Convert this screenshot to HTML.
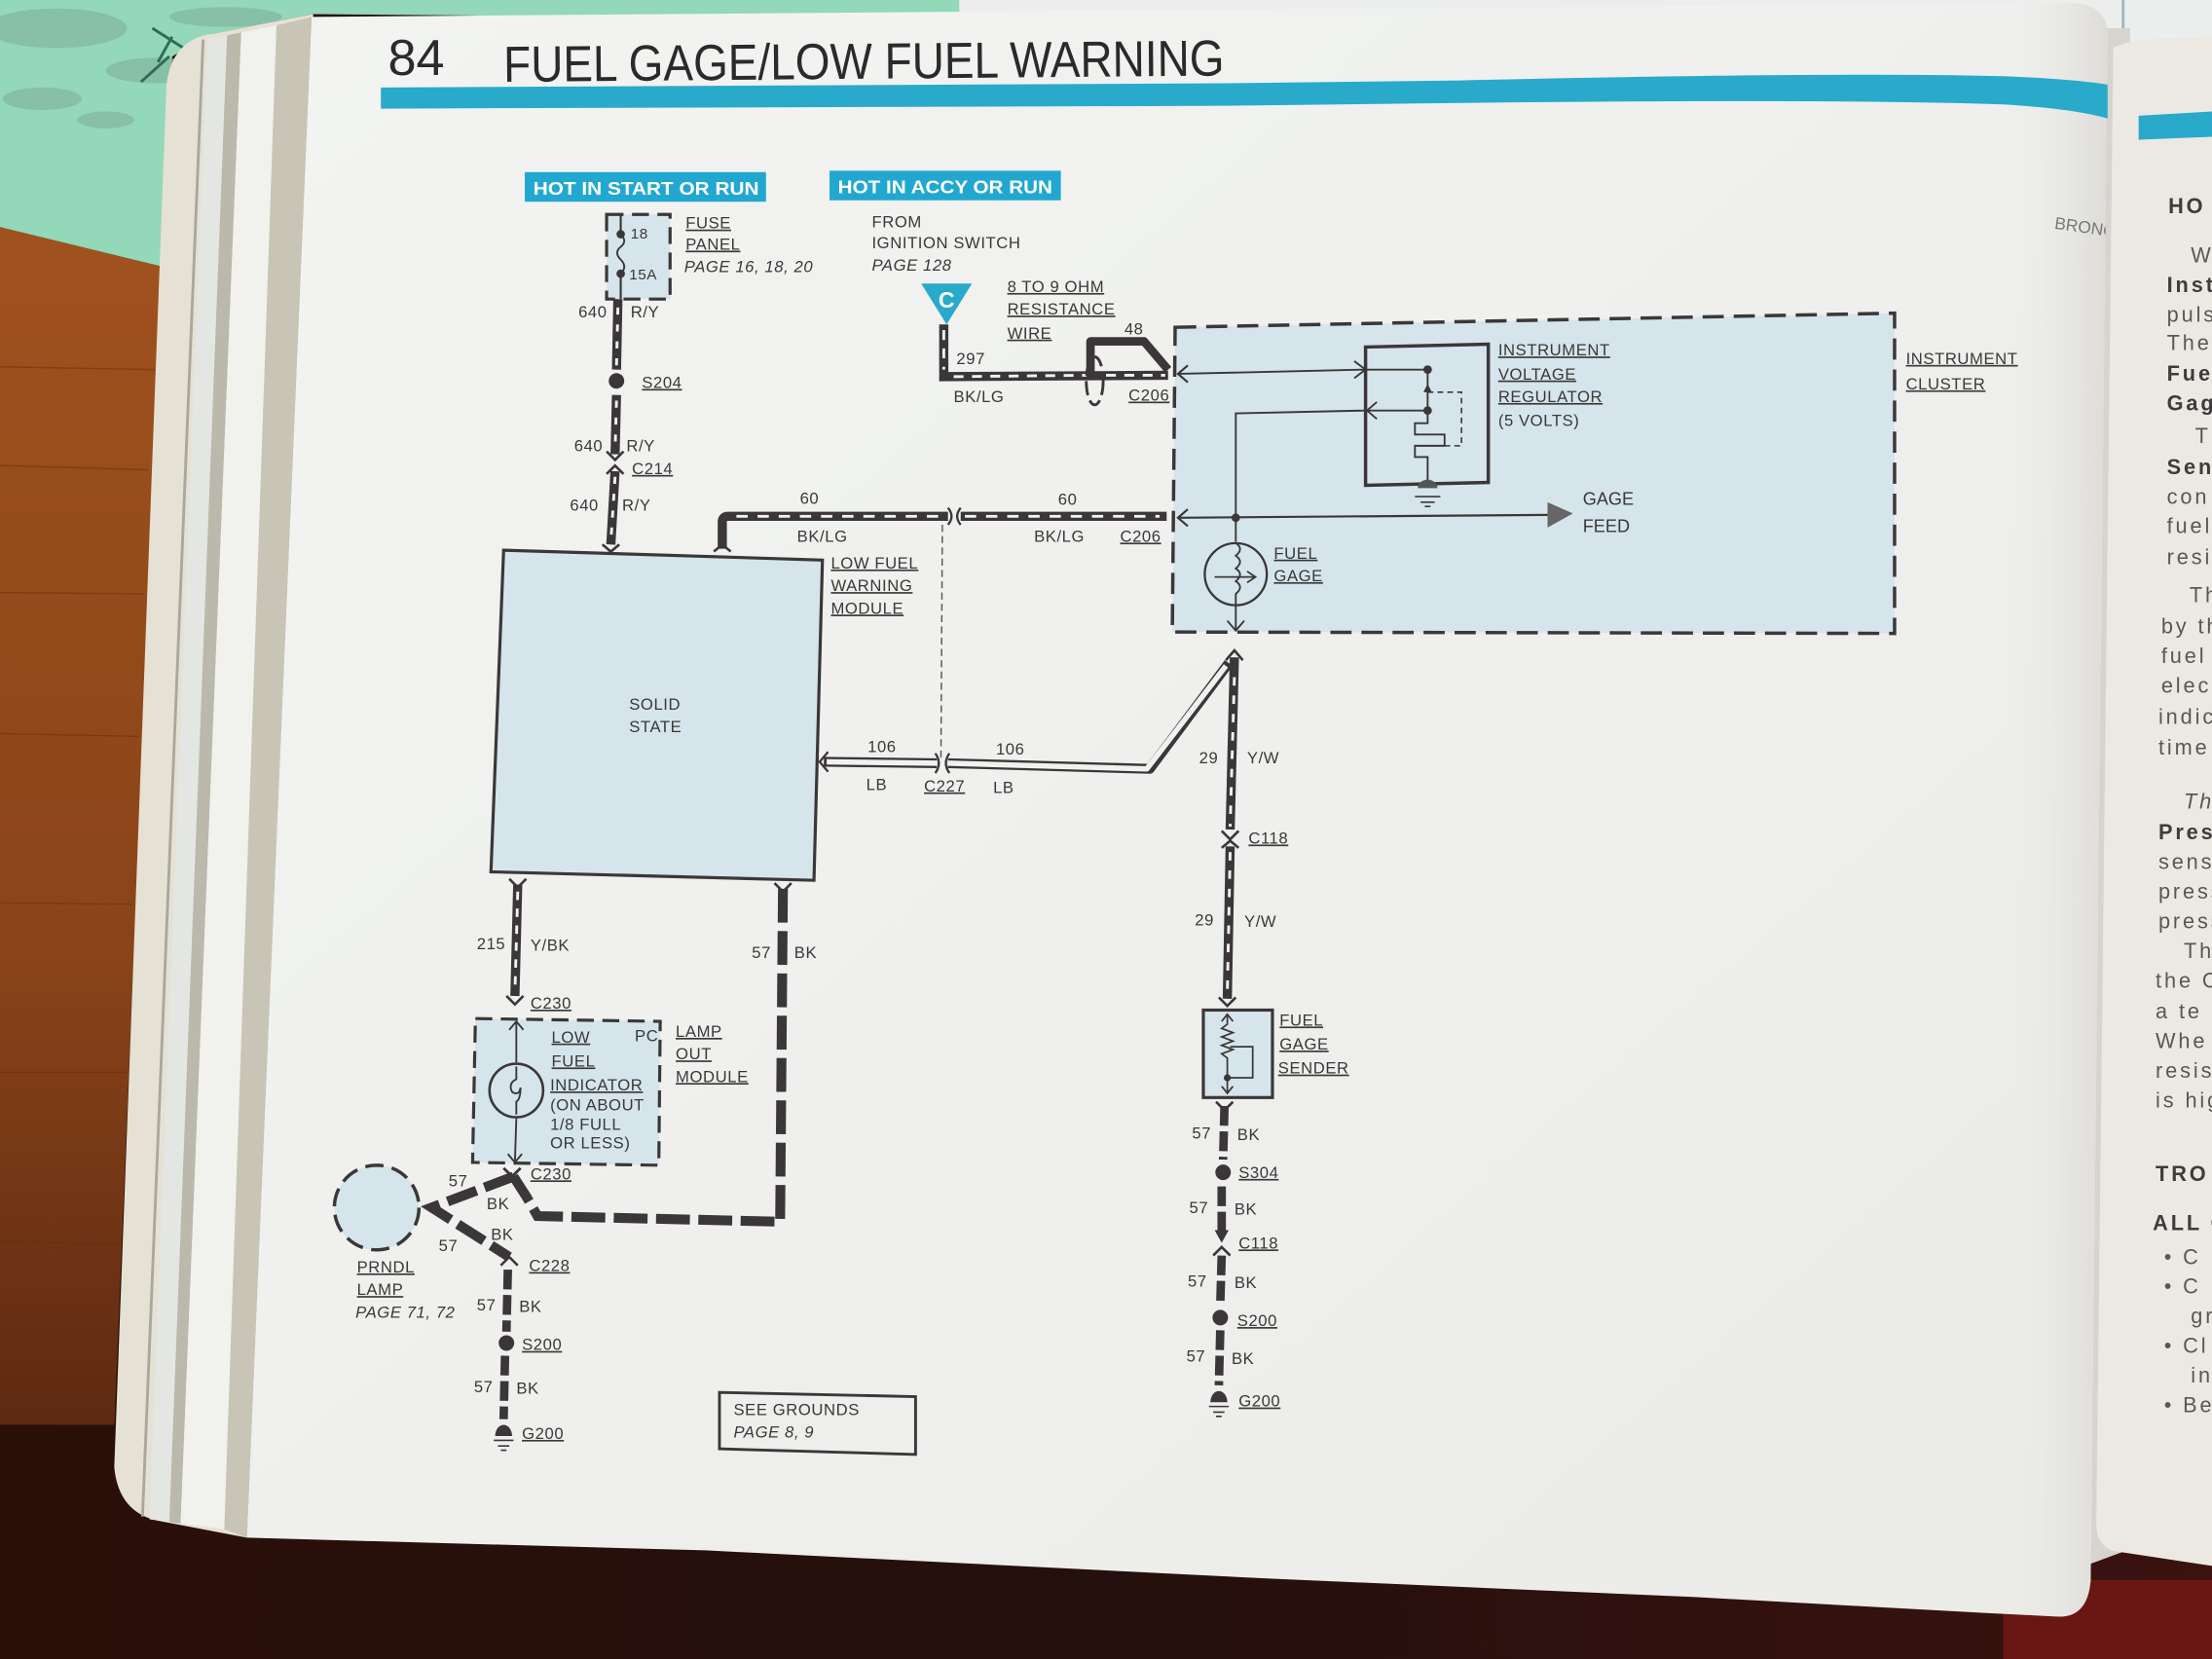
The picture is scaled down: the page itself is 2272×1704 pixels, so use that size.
<!DOCTYPE html>
<html>
<head>
<meta charset="utf-8">
<style>
  html,body{margin:0;padding:0;background:#2a100a;}
  svg{display:block;}
  .t{font-family:"Liberation Sans",sans-serif;font-size:11.5px;fill:#3a3838;letter-spacing:0.4px;}
  .s{font-size:10.5px;}
  .i{font-style:italic;}
  .u{text-decoration:underline;}
  .rp{font-family:"Liberation Sans",sans-serif;font-size:15px;fill:#5a5756;letter-spacing:2px;}
  .rb{font-weight:bold;fill:#3e3c3c;}
</style>
</head>
<body>
<svg width="2272" height="1704" viewBox="0 0 1568 1176" xmlns="http://www.w3.org/2000/svg">
  <defs>
    <linearGradient id="wood" x1="0" y1="0" x2="0" y2="1">
      <stop offset="0" stop-color="#a0521e"/>
      <stop offset="0.6" stop-color="#8a4419"/>
      <stop offset="1" stop-color="#5e2a12"/>
    </linearGradient>
    <linearGradient id="pg" x1="0" y1="0" x2="1" y2="1">
      <stop offset="0" stop-color="#f3f4f2"/>
      <stop offset="0.5" stop-color="#eff0ee"/>
      <stop offset="1" stop-color="#ebebe8"/>
    </linearGradient>
    <linearGradient id="gut" x1="0" y1="0" x2="1" y2="0">
      <stop offset="0" stop-color="#ebebe8" stop-opacity="0"/>
      <stop offset="1" stop-color="#dddbd6" stop-opacity="1"/>
    </linearGradient>
    <linearGradient id="dark" x1="0" y1="0" x2="1" y2="0">
      <stop offset="0" stop-color="#2b0f09"/>
      <stop offset="0.5" stop-color="#24100c"/>
      <stop offset="1" stop-color="#3a1210"/>
    </linearGradient>
    <clipPath id="pageclip">
      <path d="M221,12 L1470,2 Q1494,4 1494,25 L1482,1120 Q1480,1146 1460,1146 L175,1090 Z"/>
    </clipPath>
  </defs>

  <!-- backgrounds -->
  <rect x="0" y="0" width="1568" height="1176" fill="url(#dark)"/>
  <rect x="1420" y="1120" width="148" height="56" fill="#6a1612"/>
  <rect x="560" y="0" width="1008" height="60" fill="#eceeee"/>
  <line x1="1505" y1="0" x2="1505" y2="30" stroke="#9fb4c4" stroke-width="2"/>
  <!-- gutter between pages -->
  <polygon points="1480,20 1510,20 1505,1100 1478,1110" fill="#d6d4ce"/>
  <!-- green paper -->
  <polygon points="0,0 680,0 680,14 222,10 150,24 122,40 115,189 0,161" fill="#93d8b8"/>
  <g fill="#86b9a3" opacity="0.8">
    <ellipse cx="40" cy="20" rx="50" ry="14"/>
    <ellipse cx="110" cy="50" rx="35" ry="9"/>
    <ellipse cx="30" cy="70" rx="28" ry="8"/>
    <ellipse cx="75" cy="85" rx="20" ry="6"/>
    <ellipse cx="160" cy="12" rx="40" ry="7"/>
  </g>
  <path d="M112,44 L122,26 M108,20 L130,34 M100,58 L120,40" stroke="#2f6b55" stroke-width="2" fill="none"/>
  <!-- wood -->
  <polygon points="0,161 115,189 81,1010 0,1010" fill="url(#wood)"/>
  <g stroke="#6a2e10" stroke-width="1" opacity="0.5">
    <line x1="0" y1="260" x2="110" y2="262"/>
    <line x1="0" y1="330" x2="105" y2="333"/>
    <line x1="0" y1="420" x2="102" y2="421"/>
    <line x1="0" y1="520" x2="98" y2="522"/>
    <line x1="0" y1="640" x2="94" y2="641"/>
    <line x1="0" y1="760" x2="90" y2="760"/>
    <line x1="0" y1="880" x2="86" y2="882"/>
  </g>

  <!-- page stack -->
  <path d="M118,60 Q122,28 150,24 L222,10 L175,1090 L112,1078 Q84,1072 81,1040 Z" fill="#e6e1d5"/>
  <line x1="144" y1="28" x2="101" y2="1075" stroke="#aaa89c" stroke-width="2"/>
  <polygon points="147,27 161,25 120,1079 106,1077" fill="#e3e6e2"/>
  <polygon points="161,25 171,23 128,1080 120,1079" fill="#bab9ab"/>
  <polygon points="171,23 196,18 159,1084 128,1080" fill="#f1f1ee"/>
  <polygon points="196,18 221,12 175,1090 159,1084" fill="#c8c5b6"/>

  <!-- main page -->
  <path d="M221,12 L1470,2 Q1494,4 1494,25 L1482,1120 Q1480,1146 1460,1146 L1400,1143 L1200,1132 L900,1119 L500,1099 L175,1090 Z" fill="url(#pg)"/>
  <path d="M1420,3 L1470,2 Q1494,4 1494,25 L1482,1120 Q1480,1146 1460,1146 L1420,1144 Z" fill="url(#gut)"/>

  <!-- right page -->
  <path d="M1498,34 Q1508,28 1540,27 L1568,26 L1568,1110 L1502,1100 Q1486,1098 1486,1080 Z" fill="#ece9e3"/>
  <polygon points="1516,82 1568,79 1568,97 1516,99" fill="#29aacb"/>

  <!-- title -->
  <text x="275" y="53" font-family="Liberation Sans, sans-serif" font-size="36" fill="#2b2a2a">84</text>
  <text x="357" y="58" font-family="Liberation Sans, sans-serif" font-size="36" fill="#2b2a2a" textLength="511" lengthAdjust="spacingAndGlyphs" transform="rotate(-0.5 357 58)">FUEL GAGE/LOW FUEL WARNING</text>
  <path d="M270,62 L870,59 L1035,57 Q1300,51 1420,54 Q1470,56 1494,60 L1494,84 Q1470,77 1420,74 Q1300,70 1035,73 L870,75 L270,77 Z" fill="#29aacb"/>

  <!-- HOT labels -->
  <rect x="372" y="122" width="171" height="21" fill="#22a8d0"/>
  <text x="378" y="138" font-family="Liberation Sans, sans-serif" font-size="13" font-weight="bold" fill="#fff" textLength="160" lengthAdjust="spacingAndGlyphs">HOT IN START OR RUN</text>
  <rect x="588" y="121" width="164" height="21" fill="#22a8d0"/>
  <text x="594" y="137" font-family="Liberation Sans, sans-serif" font-size="13" font-weight="bold" fill="#fff" textLength="152" lengthAdjust="spacingAndGlyphs">HOT IN ACCY OR RUN</text>

  <!-- fuse panel -->
  <rect x="430" y="152" width="45" height="60" fill="#d5e5eb" stroke="#3b3738" stroke-width="2.2" stroke-dasharray="12 6"/>
  <path d="M440,152 L440,166 M440,194 L440,212" stroke="#3b3738" stroke-width="1.5"/>
  <path d="M440,166 q5,5 0,9 q-5,4 0,9 q5,5 0,10" stroke="#3b3738" stroke-width="1.3" fill="none"/>
  <circle cx="440" cy="166" r="3" fill="#3b3738"/>
  <circle cx="440" cy="194" r="3" fill="#3b3738"/>
  <text class="t s" x="447" y="169">18</text>
  <text class="t s" x="446" y="198">15A</text>
  <text class="t u" x="486" y="162">FUSE</text>
  <text class="t u" x="486" y="177">PANEL</text>
  <text class="t i" x="485" y="193">PAGE 16, 18, 20</text>

  <!-- wire 640 R/Y -->
  <g stroke="#3b3738" stroke-width="6.5" fill="none">
    <line x1="438" y1="212" x2="437" y2="262"/>
    <line x1="437" y1="280" x2="436" y2="322"/>
    <line x1="436" y1="334" x2="433" y2="386"/>
  </g>
  <g stroke="#f2f3f1" stroke-width="2" fill="none" stroke-dasharray="5 7">
    <line x1="438" y1="218" x2="437" y2="260"/>
    <line x1="437" y1="284" x2="436" y2="320"/>
    <line x1="436" y1="338" x2="433" y2="384"/>
  </g>
  <circle cx="437" cy="270" r="5.5" fill="#3b3738"/>
  <path d="M430,320 L436,326 L442,320 M430,336 L436,330 L442,336" stroke="#3b3738" stroke-width="1.8" fill="none"/>
  <path d="M427,386 L433,391 L439,386" stroke="#3b3738" stroke-width="1.8" fill="none"/>
  <text class="t" x="410" y="225">640</text><text class="t" x="447" y="225">R/Y</text>
  <text class="t u" x="455" y="275">S204</text>
  <text class="t" x="407" y="320">640</text><text class="t" x="444" y="320">R/Y</text>
  <text class="t u" x="448" y="336">C214</text>
  <text class="t" x="404" y="362">640</text><text class="t" x="441" y="362">R/Y</text>

  <!-- ignition switch -->
  <text class="t" x="618" y="161">FROM</text>
  <text class="t" x="618" y="176">IGNITION SWITCH</text>
  <text class="t i" x="618" y="192">PAGE 128</text>
  <polygon points="653,201 689,201 671,230" fill="#29aacb"/>
  <text x="671" y="218" text-anchor="middle" font-family="Liberation Sans, sans-serif" font-size="16" font-weight="bold" fill="#fff">C</text>
  <text class="t u" x="714" y="207">8 TO 9 OHM</text>
  <text class="t u" x="714" y="223">RESISTANCE</text>
  <text class="t u" x="714" y="240">WIRE</text>

  <!-- wire 297 -->
  <path d="M669,230 L669,267 L828,266" stroke="#3b3738" stroke-width="6.5" fill="none"/>
  <path d="M669,234 L669,262 M676,267 L770,266 M784,266 L826,266" stroke="#f2f3f1" stroke-width="2" fill="none" stroke-dasharray="7 6"/>
  <path d="M773,266 L773,242 L811,242 L828,262" stroke="#3b3738" stroke-width="6" fill="none" stroke-linejoin="round"/>
  <ellipse cx="776" cy="270" rx="6" ry="17" fill="none" stroke="#3b3738" stroke-width="2" stroke-dasharray="10 4"/>
  <text class="t" x="797" y="237">48</text>
  <text class="t" x="678" y="258">297</text>
  <text class="t" x="676" y="285">BK/LG</text>
  <text class="t u" x="800" y="284">C206</text>

  <!-- instrument cluster -->
  <polygon points="833,232 1343,222 1343,449 831,448" fill="#d5e5eb" stroke="#3b3738" stroke-width="2.4" stroke-dasharray="15 7"/>
  <text class="t u" x="1351" y="258">INSTRUMENT</text>
  <text class="t u" x="1351" y="276">CLUSTER</text>
  <path d="M842,259 L835,265 L842,271 M842,361 L835,367 L842,373" stroke="#3b3738" stroke-width="1.5" fill="none"/>
  <line x1="836" y1="265" x2="968" y2="262" stroke="#3b3738" stroke-width="1.3"/>
  <path d="M960,256 L968,262 L960,268" stroke="#3b3738" stroke-width="1.3" fill="none"/>
  <path d="M876,384 L876,293 L968,291" stroke="#3b3738" stroke-width="1.3" fill="none"/>
  <path d="M976,285 L969,291 L976,297" stroke="#3b3738" stroke-width="1.3" fill="none"/>
  <polygon points="968,246 1055,244 1055,342 968,344" fill="none" stroke="#3b3738" stroke-width="2.4"/>
  <path d="M968,262 L1012,262 M968,291 L1012,291 M1012,262 L1012,300 L1003,300 L1003,308 L1024,308 L1024,316 L1003,316 L1003,324 L1012,324 L1012,345" stroke="#3b3738" stroke-width="1.3" fill="none"/>
  <path d="M1012,278 L1036,278 L1036,316 L1024,316" stroke="#3b3738" stroke-width="1.1" fill="none" stroke-dasharray="4 3"/>
  <circle cx="1012" cy="262" r="3" fill="#3b3738"/>
  <circle cx="1012" cy="291" r="3" fill="#3b3738"/>
  <path d="M1009,278 L1012,272 L1015,278 Z" fill="#3b3738"/>
  <path d="M1005,346 a7,6 0 0 1 14,0 Z" fill="#555"/>
  <path d="M1003,352 L1021,352 M1007,356 L1017,356 M1010,359 L1014,359" stroke="#3b3738" stroke-width="1.1"/>
  <text class="t u" x="1062" y="252">INSTRUMENT</text>
  <text class="t u" x="1062" y="269">VOLTAGE</text>
  <text class="t u" x="1062" y="285">REGULATOR</text>
  <text class="t" x="1062" y="302" font-size="9.5">(5 VOLTS)</text>
  <line x1="836" y1="367" x2="1098" y2="365" stroke="#3b3738" stroke-width="1.5"/>
  <polygon points="1097,356 1115,364 1097,374" fill="#666"/>
  <circle cx="876" cy="367" r="3" fill="#3b3738"/>
  <text x="1122" y="358" font-family="Liberation Sans, sans-serif" font-size="12.5" fill="#3a3838">GAGE</text>
  <text x="1122" y="377" font-family="Liberation Sans, sans-serif" font-size="12.5" fill="#3a3838">FEED</text>
  <circle cx="876" cy="407" r="22" fill="none" stroke="#3b3738" stroke-width="1.6"/>
  <path d="M876,385 q6,4 0,9 q6,4 0,9 q6,4 0,9 q6,4 0,9 L876,447" stroke="#3b3738" stroke-width="1.3" fill="none"/>
  <path d="M861,409 L889,409 M884,405 L890,409 L884,413" stroke="#3b3738" stroke-width="1.2" fill="none"/>
  <path d="M870,440 L876,447 L882,440" stroke="#3b3738" stroke-width="1.3" fill="none"/>
  <text class="t u" x="903" y="396">FUEL</text>
  <text class="t u" x="903" y="412">GAGE</text>

  <!-- low fuel warning module -->
  <polygon points="357,390 583,397 577,624 348,618" fill="#d5e5eb" stroke="#3b3738" stroke-width="2.2"/>
  <text class="t" x="446" y="503">SOLID</text>
  <text class="t" x="446" y="519">STATE</text>
  <text class="t u" x="589" y="403">LOW FUEL</text>
  <text class="t u" x="589" y="419">WARNING</text>
  <text class="t u" x="589" y="435">MODULE</text>

  <!-- wire 60 -->
  <path d="M512,389 L512,370 Q512,366 516,366 L672,366" stroke="#3b3738" stroke-width="6.5" fill="none"/>
  <line x1="681" y1="366" x2="827" y2="366" stroke="#3b3738" stroke-width="6.5"/>
  <path d="M522,366 L670,366 M684,366 L822,366" stroke="#f2f3f1" stroke-width="2" stroke-dasharray="8 7" fill="none"/>
  <path d="M672,360 Q677,366 672,372 M681,360 Q676,366 681,372" stroke="#3b3738" stroke-width="1.6" fill="none"/>
  <path d="M506,391 L512,386 L518,391" stroke="#3b3738" stroke-width="1.8" fill="none"/>
  <text class="t" x="567" y="357">60</text>
  <text class="t" x="565" y="384">BK/LG</text>
  <text class="t" x="750" y="358">60</text>
  <text class="t" x="733" y="384">BK/LG</text>
  <text class="t u" x="794" y="384">C206</text>
  <line x1="668" y1="372" x2="667" y2="537" stroke="#555" stroke-width="1" stroke-dasharray="5 3"/>

  <!-- wire 106 LB -->
  <path d="M584,540 L664,541 M672,541 L815,545 L871,470" stroke="#3b3738" stroke-width="7" fill="none" stroke-linejoin="round"/>
  <path d="M586,540 L664,541 M672,541 L813,545 L869,472" stroke="#f1f2f0" stroke-width="3.8" fill="none" stroke-linejoin="round"/>
  <path d="M663,534 Q668,541 663,548 M673,534 Q668,541 673,548" stroke="#3b3738" stroke-width="1.6" fill="none"/>
  <path d="M587,533 L581,540 L587,547" stroke="#3b3738" stroke-width="1.6" fill="none"/>
  <text class="t" x="615" y="533">106</text>
  <text class="t" x="614" y="560">LB</text>
  <text class="t u" x="655" y="561">C227</text>
  <text class="t" x="706" y="535">106</text>
  <text class="t" x="704" y="562">LB</text>

  <!-- wire 29 Y/W -->
  <g stroke="#3b3738" stroke-width="6.5" fill="none">
    <line x1="875" y1="466" x2="872" y2="588"/>
    <line x1="872" y1="600" x2="870" y2="708"/>
  </g>
  <g stroke="#f2f3f1" stroke-width="2" stroke-dasharray="6 7" fill="none">
    <line x1="875" y1="480" x2="872" y2="586"/>
    <line x1="872" y1="604" x2="870" y2="704"/>
  </g>
  <path d="M869,468 L875,461 L881,468" stroke="#3b3738" stroke-width="1.8" fill="none"/>
  <path d="M866,589 L872,595 L878,589 M866,601 L872,596 L878,601" stroke="#3b3738" stroke-width="1.8" fill="none"/>
  <path d="M864,707 L870,713 L876,707" stroke="#3b3738" stroke-width="1.8" fill="none"/>
  <text class="t" x="850" y="541">29</text><text class="t" x="884" y="541">Y/W</text>
  <text class="t u" x="885" y="598">C118</text>
  <text class="t" x="847" y="656">29</text><text class="t" x="882" y="657">Y/W</text>

  <!-- sender -->
  <rect x="853" y="716" width="49" height="62" fill="#d5e5eb" stroke="#3b3738" stroke-width="2.2"/>
  <path d="M870,719 L870,726 l-4,3 l8,3 l-8,3 l8,3 l-8,3 l8,3 l-8,3 l4,3 L870,775" stroke="#3b3738" stroke-width="1.2" fill="none"/>
  <path d="M866,724 L870,719 L874,724 M866,770 L870,775 L874,770" stroke="#3b3738" stroke-width="1.2" fill="none"/>
  <path d="M872,742 L888,742 L888,764 L870,764" stroke="#3b3738" stroke-width="1.2" fill="none"/>
  <circle cx="870" cy="764" r="2.5" fill="#3b3738"/>
  <text class="t u" x="907" y="727">FUEL</text>
  <text class="t u" x="907" y="744">GAGE</text>
  <text class="t u" x="906" y="761">SENDER</text>

  <!-- sender ground wire 57 BK -->
  <g stroke="#3b3738" stroke-width="6" fill="none">
    <line x1="868" y1="784" x2="867" y2="822" stroke-dasharray="14 4"/>
    <line x1="866" y1="841" x2="866" y2="872" stroke-dasharray="14 4"/>
    <line x1="866" y1="890" x2="865" y2="925" stroke-dasharray="14 4"/>
    <line x1="865" y1="943" x2="864" y2="982" stroke-dasharray="14 4"/>
  </g>
  <path d="M862,781 L868,787 L874,781" stroke="#3b3738" stroke-width="1.8" fill="none"/>
  <circle cx="867" cy="831" r="5.5" fill="#3b3738"/>
  <path d="M861,872 L866,881 L871,872 Z" fill="#3b3738"/>
  <path d="M860,890 L866,884 L872,890" stroke="#3b3738" stroke-width="1.8" fill="none"/>
  <circle cx="865" cy="934" r="5.5" fill="#3b3738"/>
  <path d="M858,994 a6,8 0 0 1 12,0 Z" fill="#3b3738"/>
  <path d="M857,997 L871,997 M860,1001 L868,1001 M862,1004 L866,1004" stroke="#3b3738" stroke-width="1.1"/>
  <text class="t" x="845" y="807">57</text><text class="t" x="877" y="808">BK</text>
  <text class="t u" x="878" y="835">S304</text>
  <text class="t" x="843" y="860">57</text><text class="t" x="875" y="861">BK</text>
  <text class="t u" x="878" y="885">C118</text>
  <text class="t" x="842" y="912">57</text><text class="t" x="875" y="913">BK</text>
  <text class="t u" x="877" y="940">S200</text>
  <text class="t" x="841" y="965">57</text><text class="t" x="873" y="967">BK</text>
  <text class="t u" x="878" y="997">G200</text>

  <!-- wire 215 Y/BK -->
  <line x1="367" y1="627" x2="365" y2="706" stroke="#3b3738" stroke-width="6.5"/>
  <line x1="367" y1="632" x2="365" y2="704" stroke="#f2f3f1" stroke-width="2" stroke-dasharray="6 6"/>
  <path d="M361,623 L367,629 L373,623" stroke="#3b3738" stroke-width="1.8" fill="none"/>
  <path d="M359,706 L365,712 L371,706" stroke="#3b3738" stroke-width="1.8" fill="none"/>
  <text class="t" x="338" y="673">215</text><text class="t" x="376" y="674">Y/BK</text>
  <text class="t u" x="376" y="715">C230</text>

  <!-- lamp out module -->
  <polygon points="337,722 468,724 467,826 335,824" fill="#d5e5eb" stroke="#3b3738" stroke-width="2.2" stroke-dasharray="12 6"/>
  <path d="M366,724 L366,753 M366,793 L365,824" stroke="#3b3738" stroke-width="1.3"/>
  <path d="M361,730 L366,724 L371,730 M360,818 L365,824 L370,818" stroke="#3b3738" stroke-width="1.3" fill="none"/>
  <circle cx="366" cy="773" r="19" fill="none" stroke="#3b3738" stroke-width="1.8"/>
  <path d="M366,756 L366,765 q-6,3 -3,9 q5,3 6,-3 q0,8 -3,10 L366,790" stroke="#3b3738" stroke-width="1.3" fill="none"/>
  <text class="t" x="450" y="738" font-size="9">PC</text>
  <text class="t u" x="391" y="739">LOW</text>
  <text class="t u" x="391" y="756">FUEL</text>
  <text class="t u" x="390" y="773">INDICATOR</text>
  <text class="t" x="390" y="787" font-size="10">(ON ABOUT</text>
  <text class="t" x="390" y="801" font-size="10">1/8 FULL</text>
  <text class="t" x="390" y="814" font-size="10">OR LESS)</text>
  <text class="t u" x="479" y="735">LAMP</text>
  <text class="t u" x="479" y="751">OUT</text>
  <text class="t u" x="479" y="767">MODULE</text>
  <text class="t u" x="376" y="836">C230</text>

  <!-- 57 BK from module + PRNDL -->
  <path d="M555,630 L553,866 L381,862 L373,848 L364,834" stroke="#3b3738" stroke-width="7" fill="none" stroke-dasharray="24 6" stroke-linejoin="miter"/>
  <path d="M549,626 L555,632 L561,626" stroke="#3b3738" stroke-width="1.8" fill="none"/>
  <path d="M364,834 L306,856 L361,891" stroke="#3b3738" stroke-width="7" fill="none" stroke-dasharray="22 6"/>
  <path d="M357,828 L363,834 L369,828" stroke="#3b3738" stroke-width="2" fill="none"/>
  <circle cx="267" cy="856" r="30" fill="#d5e5eb" stroke="#3b3738" stroke-width="2.4" stroke-dasharray="13 6"/>
  <text class="t" x="318" y="841">57</text><text class="t" x="345" y="857">BK</text>
  <text class="t" x="311" y="887">57</text><text class="t" x="348" y="879">BK</text>
  <text class="t u" x="375" y="901">C228</text>
  <text class="t u" x="253" y="902">PRNDL</text>
  <text class="t u" x="253" y="918">LAMP</text>
  <text class="t i" x="252" y="934">PAGE 71, 72</text>
  <text class="t" x="533" y="679">57</text><text class="t" x="563" y="679">BK</text>
  <path d="M355,897 L361,891 L367,897" stroke="#3b3738" stroke-width="1.8" fill="none"/>
  <g stroke="#3b3738" stroke-width="6" fill="none">
    <line x1="360" y1="900" x2="359" y2="944" stroke-dasharray="14 4"/>
    <line x1="358" y1="961" x2="357" y2="1006" stroke-dasharray="14 4"/>
  </g>
  <circle cx="359" cy="952" r="5.5" fill="#3b3738"/>
  <path d="M351,1018 a6,8 0 0 1 12,0 Z" fill="#3b3738"/>
  <path d="M350,1021 L364,1021 M353,1025 L361,1025 M355,1028 L359,1028" stroke="#3b3738" stroke-width="1.1"/>
  <text class="t" x="338" y="929">57</text><text class="t" x="368" y="930">BK</text>
  <text class="t u" x="370" y="957">S200</text>
  <text class="t" x="336" y="987">57</text><text class="t" x="366" y="988">BK</text>
  <text class="t u" x="370" y="1020">G200</text>

  <!-- see grounds -->
  <polygon points="510,987 649,990 649,1031 510,1027" fill="none" stroke="#3b3738" stroke-width="2"/>
  <text class="t" x="520" y="1003">SEE GROUNDS</text>
  <text class="t i" x="520" y="1019">PAGE 8, 9</text>

  <!-- bronco -->
  <g clip-path="url(#pageclip)">
    <text x="1456" y="162" font-family="Liberation Sans, sans-serif" font-size="12" fill="#777" transform="rotate(8 1456 162)">BRONCO</text>
  </g>

  <!-- right page text -->
  <text class="rp rb" x="1537" y="151" font-size="18">HO</text>
  <text class="rp" x="1553" y="186">W</text>
  <text class="rp rb" x="1536" y="207">Inst</text>
  <text class="rp" x="1536" y="228">puls</text>
  <text class="rp" x="1536" y="248">The</text>
  <text class="rp rb" x="1536" y="270">Fue</text>
  <text class="rp rb" x="1536" y="291">Gag</text>
  <text class="rp" x="1556" y="314">T</text>
  <text class="rp rb" x="1536" y="336">Sen</text>
  <text class="rp" x="1536" y="357">con</text>
  <text class="rp" x="1536" y="378">fuel</text>
  <text class="rp" x="1536" y="400">resi</text>
  <text class="rp" x="1552" y="427">Th</text>
  <text class="rp" x="1532" y="449">by th</text>
  <text class="rp" x="1532" y="470">fuel</text>
  <text class="rp" x="1532" y="491">elec</text>
  <text class="rp" x="1530" y="513">indic</text>
  <text class="rp" x="1530" y="535">time</text>
  <text class="rp i" x="1548" y="573">The</text>
  <text class="rp rb" x="1530" y="595">Press</text>
  <text class="rp" x="1530" y="616">sensi</text>
  <text class="rp" x="1530" y="637">press</text>
  <text class="rp" x="1530" y="658">press</text>
  <text class="rp" x="1548" y="679">The</text>
  <text class="rp" x="1528" y="700">the C</text>
  <text class="rp" x="1528" y="722">a   te</text>
  <text class="rp" x="1528" y="743">Whe</text>
  <text class="rp" x="1528" y="764">resis</text>
  <text class="rp" x="1528" y="785">is hig</text>
  <text class="rp rb" x="1528" y="837" font-size="18">TRO</text>
  <text class="rp rb" x="1526" y="872">ALL C</text>
  <text class="rp" x="1534" y="896">• C</text>
  <text class="rp" x="1534" y="917">• C</text>
  <text class="rp" x="1553" y="938">gr</text>
  <text class="rp" x="1534" y="959">• Cl</text>
  <text class="rp" x="1553" y="980">in</text>
  <text class="rp" x="1534" y="1001">• Be</text>
</svg>
</body>
</html>
